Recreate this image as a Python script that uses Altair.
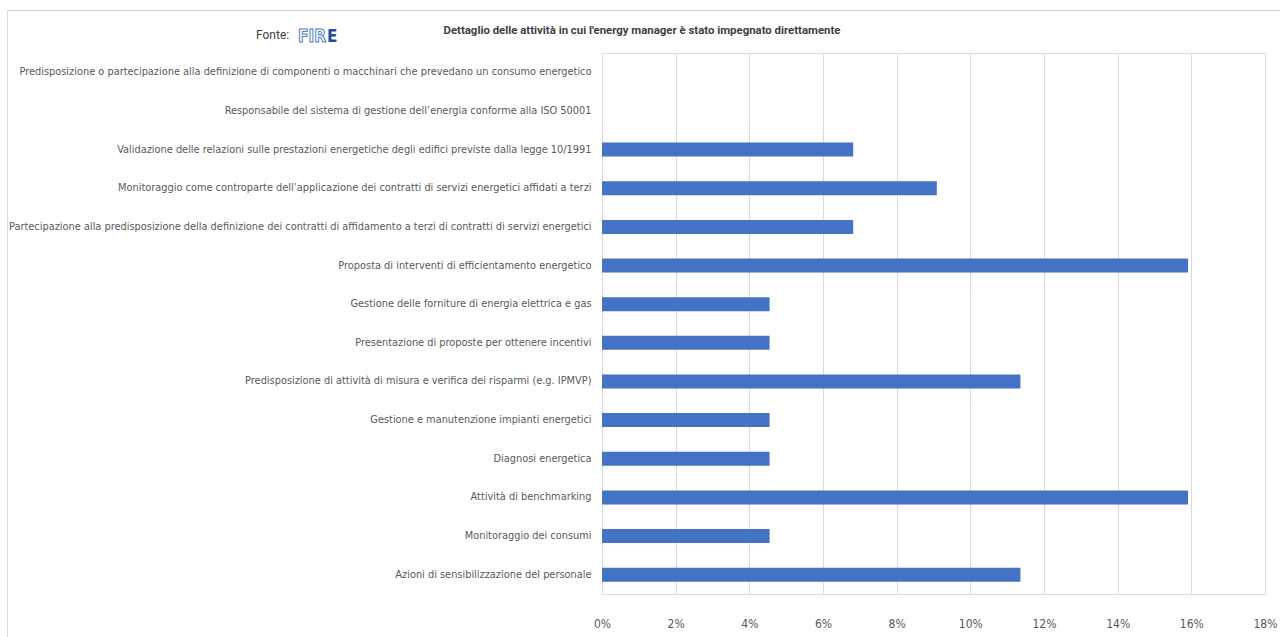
import altair as alt
import pandas as pd

# Activities, listed top to bottom as they appear on the chart
activities = [
    "Predisposizione o partecipazione alla definizione di componenti o macchinari che prevedano un consumo energetico",
    "Responsabile del sistema di gestione dell’energia conforme alla ISO 50001",
    "Validazione delle relazioni sulle prestazioni energetiche degli edifici previste dalla legge 10/1991",
    "Monitoraggio come controparte dell’applicazione dei contratti di servizi energetici affidati a terzi",
    "Partecipazione alla predisposizione della definizione dei contratti di affidamento a terzi di contratti di servizi energetici",
    "Proposta di interventi di efficientamento energetico",
    "Gestione delle forniture di energia elettrica e gas",
    "Presentazione di proposte per ottenere incentivi",
    "Predisposizione di attività di misura e verifica dei risparmi (e.g. IPMVP)",
    "Gestione e manutenzione impianti energetici",
    "Diagnosi energetica",
    "Attività di benchmarking",
    "Monitoraggio dei consumi",
    "Azioni di sensibilizzazione del personale",
]

# Share of energy managers directly involved in each activity
shares = [0.0, 0.0, 0.0682, 0.0909, 0.0682, 0.1591, 0.0455, 0.0455,
          0.1136, 0.0455, 0.0455, 0.1591, 0.0455, 0.1136]

x_ticks = [0, 0.02, 0.04, 0.06, 0.08, 0.10, 0.12, 0.14, 0.16, 0.18]

title_text = "Dettaglio delle attività in cui l'energy manager è stato impegnato direttamente"

df = pd.DataFrame({"attivita": activities, "quota": shares})

FONT = "DejaVu Sans Condensed"
GREY = "#595959"

W, H = 663, 541
LEFT, TOP = 602, 53

bars = alt.Chart(df).mark_bar(color="#4472C4", size=14).encode(
    x=alt.X(
        "quota:Q",
        scale=alt.Scale(domain=[0, 0.18], nice=False),
        axis=alt.Axis(
            values=x_ticks, format=".0%", title=None, domain=False, ticks=False,
            grid=True, gridColor="#d9d9d9", gridWidth=1, labelFlush=False,
            labelFont=FONT, labelFontSize=12, labelColor=GREY, labelPadding=24,
        ),
    ),
    y=alt.Y(
        "attivita:N",
        sort=activities,
        axis=alt.Axis(
            title=None, domain=False, ticks=False, labelLimit=0,
            labelFont=FONT, labelFontSize=10.9, labelColor=GREY, labelPadding=11,
        ),
    ),
)

title = alt.Chart(pd.DataFrame({"t": [title_text]})).mark_text(
    font="Roboto", fontSize=11.4, fontWeight="bold", color="#404040", align="center", baseline="middle"
).encode(text="t:N", x=alt.value(642 - LEFT), y=alt.value(31 - TOP))

fonte = alt.Chart(pd.DataFrame({"t": ["Fonte:"]})).mark_text(
    font="Roboto", fontSize=12, color="#404040", align="left", baseline="middle"
).encode(text="t:N", x=alt.value(256 - LEFT), y=alt.value(35 - TOP))

# FIRE logo drawn as lettering: outlined "FIR" and a solid "E"
logo_fir = alt.Chart(pd.DataFrame({"t": ["FIR"]})).mark_text(
    font="DejaVu Sans Condensed", fontSize=17, fontWeight="bold", color="#ffffff", align="left",
    baseline="middle", stroke="#4f7fc4", strokeWidth=1
).encode(text="t:N", x=alt.value(298 - LEFT), y=alt.value(37 - TOP))

logo_e = alt.Chart(pd.DataFrame({"t": ["E"]})).mark_text(
    font="DejaVu Sans Condensed", fontSize=17, fontWeight="bold", color="#1f4e9c", align="left",
    baseline="middle"
).encode(text="t:N", x=alt.value(327 - LEFT), y=alt.value(37 - TOP))

frame_top = alt.Chart(pd.DataFrame({"k": [0]})).mark_rule(color="#d9d9d9", strokeWidth=1).encode(
    x=alt.value(7 - LEFT), x2=alt.value(1280 - LEFT), y=alt.value(10.5 - TOP)
)
frame_left = alt.Chart(pd.DataFrame({"k": [0]})).mark_rule(color="#d9d9d9", strokeWidth=1).encode(
    x=alt.value(7.5 - LEFT), y=alt.value(10 - TOP), y2=alt.value(637 - TOP)
)

chart = alt.layer(frame_top, frame_left, bars, title, fonte, logo_fir, logo_e).properties(
    width=W, height=H,
    padding={"left": LEFT, "top": TOP, "right": 1280 - LEFT - W, "bottom": 637 - TOP - H},
    autosize=alt.AutoSizeParams(type="none"),
).configure_view(stroke=None).configure(background="white")

chart.save("out.html", embed_options={"renderer": "svg", "actions": False})
